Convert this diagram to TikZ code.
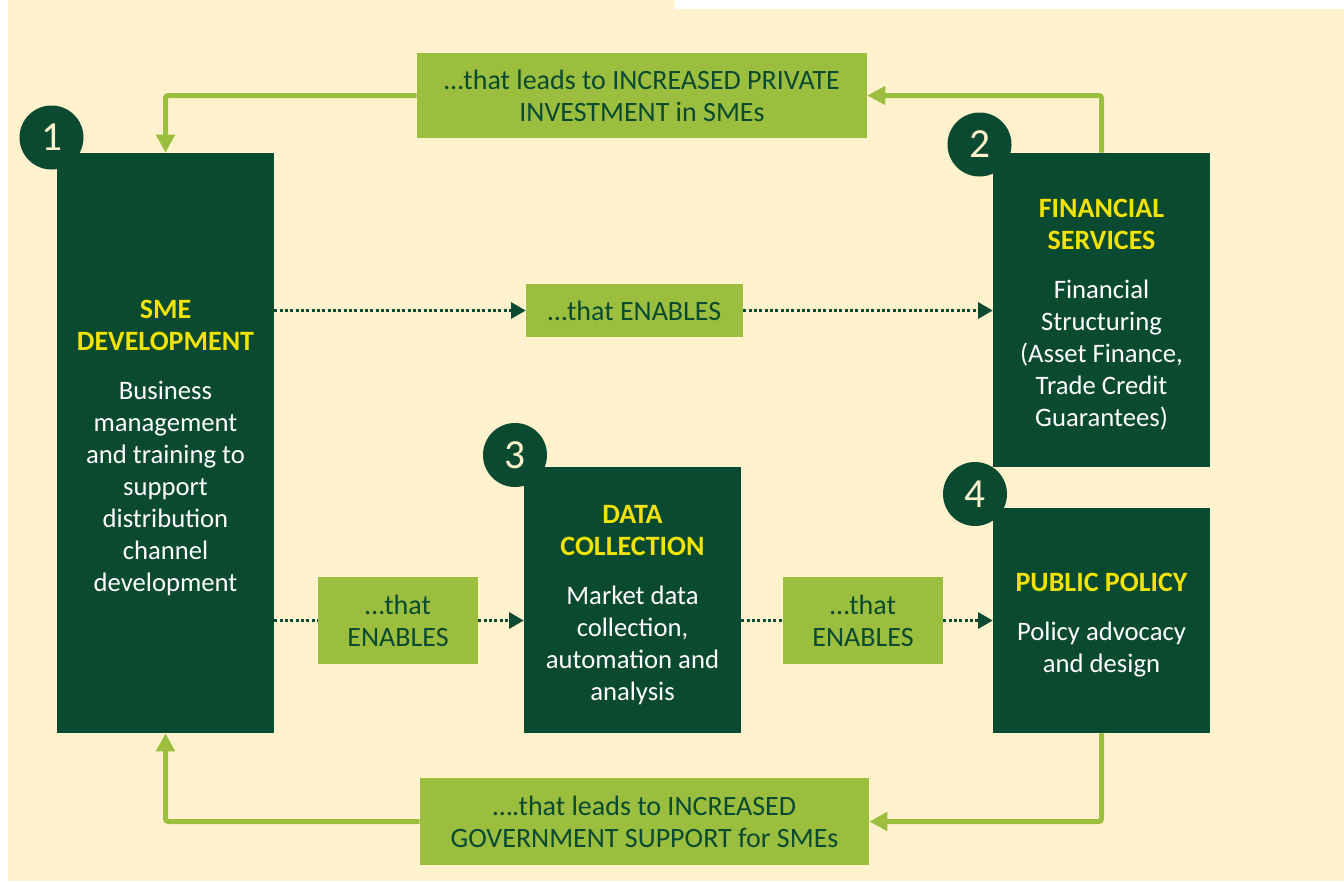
\documentclass[tikz,border=0pt]{standalone}
\usepackage{fontspec}
\setmainfont{Carlito}
\usetikzlibrary{arrows.meta,positioning}
\definecolor{dkgreen}{HTML}{0A4A30}
\definecolor{lime}{HTML}{9BBE3F}
\definecolor{gold}{HTML}{F2E205}
\definecolor{cream}{HTML}{FFF2CC}
\newcommand{\hd}[1]{\textcolor{gold}{\fontsize{21}{24}\selectfont\bfseries #1}}
\newcommand{\lift}{\rule{0pt}{21pt}}

\begin{document}
\begin{tikzpicture}[x=0.75pt,y=-0.75pt,
  box/.style={fill=dkgreen,text=white,align=center,inner sep=0pt,
    minimum width=162.75pt,font=\fontsize{20}{24}\selectfont},
  lbl/.style={fill=lime,text=dkgreen,align=center,inner sep=0pt,
    font=\fontsize{21}{24}\selectfont},
  num/.style={circle,fill=dkgreen,text=cream,minimum size=48pt,inner sep=0pt,
    font=\fontsize{31}{31}\selectfont},
  loop/.style={draw=lime,line width=3.75pt,rounded corners=2pt,
    -{Triangle[length=13.5pt,width=13.5pt]}},
  dots/.style={draw=dkgreen,line width=2.25pt,dash pattern=on 2.25pt off 1.75pt}]
  % page and panel
  \useasboundingbox (0,0) rectangle (1344,881);
  \fill[white] (0,0) rectangle (1344,881);
  \fill[cream] (8,0) rectangle (1344,881);
  \fill[white] (675,0) rectangle (1344,9);

  % main boxes
  \node[box,minimum height=435pt] (sme) at (165.5,443)
    {\lift\hd{SME}\\ \hd{DEVELOPMENT}\\[12.75pt] Business\\ management\\ and training to\\
     support\\ distribution\\ channel\\ development};
  \node[box,minimum height=235.5pt] (fin) at (1101.5,310)
    {\lift\hd{FINANCIAL}\\ \hd{SERVICES}\\[12.75pt] Financial\\ Structuring\\
     (Asset Finance,\\ Trade Credit\\ Guarantees)};
  \node[box,minimum height=199.5pt] (data) at (632.5,600)
    {\lift\hd{DATA}\\ \hd{COLLECTION}\\[12.75pt] Market data\\ collection,\\
     automation and\\ analysis};
  \node[box,minimum height=168.75pt] (pol) at (1101.5,620.5)
    {\lift\hd{PUBLIC POLICY}\\[12.75pt] Policy advocacy\\ and design};

  % numbers
  \node[num] (n1) at (51.5,137.5) {1};
  \node[num] (n2) at (979.5,144.5) {2};
  \node[num] (n3) at (515,455) {3};
  \node[num] (n4) at (975,494) {4};

  % link labels
  \node[lbl,minimum width=337.5pt,minimum height=63.75pt] (top) at (642,95.5)
    {\dots that leads to INCREASED PRIVATE\\ INVESTMENT in SMEs};
  \node[lbl,minimum width=162.75pt,minimum height=39.75pt] (mid) at (634.5,310.5)
    {\dots that ENABLES};
  \node[lbl,minimum width=120pt,minimum height=65.25pt] (enA) at (398,620.5)
    {\dots that\\ ENABLES};
  \node[lbl,minimum width=120pt,minimum height=65.25pt] (enB) at (863,620.5)
    {\dots that\\ ENABLES};
  \node[lbl,minimum width=336.75pt,minimum height=65.25pt] (bot) at (644.5,821.5)
    {\dots.that leads to INCREASED\\ GOVERNMENT SUPPORT for SMEs};

  % feedback loops
  \draw[loop] (fin.north) |- (top.east);
  \draw[loop] (top.west) -| (sme.north);
  \draw[loop] (pol.south) |- (bot.east);
  \draw[loop] (bot.west) -| (sme.south);

  % enabling links
  \draw[dots,-{Triangle[length=11pt,width=12pt]}] (sme.east |- mid.west) -- (mid.west);
  \draw[dots,-{Triangle[length=11pt,width=12pt]}] (mid.east) -- (mid.east -| fin.west);
  \draw[dots] (sme.east |- enA.west) -- (enA.west);
  \draw[dots,-{Triangle[length=11pt,width=12pt]}] (enA.east) -- (enA.east -| data.west);
  \draw[dots] (data.east |- enB.west) -- (enB.west);
  \draw[dots,-{Triangle[length=11pt,width=12pt]}] (enB.east) -- (enB.east -| pol.west);
\end{tikzpicture}
\end{document}
